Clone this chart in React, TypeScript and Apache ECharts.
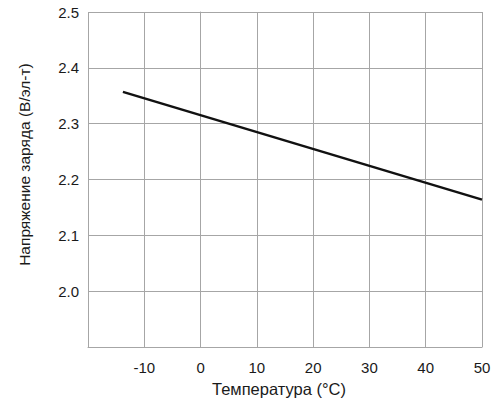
import React, { useEffect, useRef } from "react";
import * as echarts from "echarts";

const temperatures = [-13.8, 50];
const voltages = [2.357, 2.164];
const xTicks = [-10, 0, 10, 20, 30, 40, 50];
const yTicks = [2.0, 2.1, 2.2, 2.3, 2.4, 2.5];
const xName = "Температура (°C)";
const yName = "Напряжение заряда (В/эл-т)";

export default function App() {
  const ref = useRef<HTMLDivElement>(null);
  useEffect(() => {
    if (!ref.current) return;
    const chart = echarts.init(ref.current, undefined, { renderer: "svg" });
    const font = "Liberation Sans, Arial, sans-serif";
    const gridColor = "#a6a6a6";
    chart.setOption({
      animation: false,
      backgroundColor: "#ffffff",
      grid: { left: 88, right: 19, top: 12, bottom: 54, containLabel: false },
      xAxis: {
        type: "value",
        min: -20,
        max: 50,
        interval: 10,
        name: xName,
        nameLocation: "middle",
        nameGap: 32,
        nameTextStyle: { fontFamily: font, fontSize: 16.5, color: "#1a1a1a", padding: [0, 12, 0, 0] },
        axisLine: { show: true, lineStyle: { color: gridColor, width: 1 } },
        axisTick: { show: false },
        axisLabel: {
          margin: 13,
          fontFamily: font,
          fontSize: 15,
          color: "#1a1a1a",
          formatter: (v: number) => (xTicks.includes(v) ? String(v) : ""),
        },
        splitLine: { show: true, lineStyle: { color: gridColor, width: 1 } },
      },
      yAxis: {
        type: "value",
        min: 1.9,
        max: 2.5,
        interval: 0.1,
        name: yName,
        nameLocation: "middle",
        nameGap: 56,
        nameTextStyle: { fontFamily: font, fontSize: 15.5, color: "#1a1a1a", padding: [0, 0, 0, 30] },
        axisLine: { show: true, lineStyle: { color: gridColor, width: 1 } },
        axisTick: { show: false },
        axisLabel: {
          margin: 9,
          fontFamily: font,
          fontSize: 15,
          color: "#1a1a1a",
          formatter: (v: number) => {
            const r = Math.round(v * 10) / 10;
            return yTicks.some((t) => Math.abs(t - r) < 1e-6) ? r.toFixed(1) : "";
          },
        },
        splitLine: { show: true, lineStyle: { color: gridColor, width: 1 } },
      },
      series: [
        {
          type: "line",
          data: temperatures.map((t, i) => [t, voltages[i]]),
          showSymbol: false,
          lineStyle: { color: "#111111", width: 2.5 },
        },
      ],
    });
    return () => chart.dispose();
  }, []);
  return <div ref={ref} style={{ position: "fixed", left: 0, top: 0, width: 501, height: 402 }} />;
}
